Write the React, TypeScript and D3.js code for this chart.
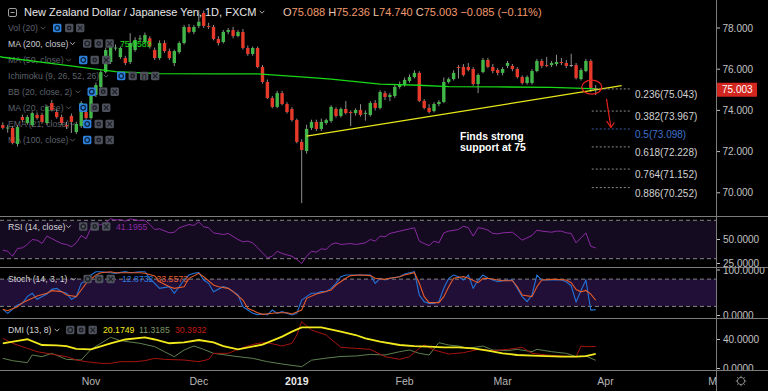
import React from 'react';
import * as d3 from 'd3';

// ---------- DATA ----------
const FIRST_BAR = -61; // bar index of the first candle (0 = 3 Jan 2019)
const opens = [
  73.29, 73.15, 73.15, 72.37, 73.68, 73.39, 73.29, 73.78, 73.78, 73.39,
  74.36, 73.92, 73.68, 73.29, 73.73, 72.95, 73.24, 73.92, 73.63, 74.75,
  75.14, 75.86, 76.35, 77.03, 76.59, 76.54, 76.35, 76.93, 77.47, 77.32,
  77.5, 76.93, 76.54, 77.27, 76.88, 76.3, 76.83, 77.27, 78.05, 77.81,
  78.1, 78.73, 78.1, 78.05, 77.47, 77.32, 77.81, 77.9, 77.61, 77.81,
  77.03, 76.74, 77.03, 76.11, 75.38, 74.6, 74.17, 74.84, 74.31, 74.07,
  73.53, 72.47, 72.03, 73.15, 73.44, 73.1, 73.39, 73.49, 74.07, 73.73,
  74.07, 73.92, 73.87, 74.02, 73.87, 73.78, 74.36, 74.12, 74.84, 74.65,
  74.7, 75.14, 75.23, 75.43, 75.62, 75.82, 74.46, 74.12, 73.97, 74.31,
  74.41, 75.38, 75.52, 76.11, 76.11, 76.11, 76.01, 75.28, 75.86, 76.45,
  76.11, 75.96, 75.82, 76.16, 76.16, 76.01, 75.62, 75.33, 75.33, 75.91,
  76.4, 76.2, 76.2, 76.25, 76.35, 76.3, 76.2, 76.2, 75.52, 75.91,
  76.4, 75.088,
];
const highs = [
  73.42, 73.3, 73.25, 73.28, 73.8, 73.78, 73.95, 73.9, 73.88, 74.25,
  74.5, 74.05, 73.8, 73.45, 73.85, 73.45, 74.45, 74.05, 74.85, 75.35,
  75.95, 77.05, 77.2, 77.2, 77.1, 76.65, 77.75, 77.55, 77.65, 77.78,
  77.6, 77.05, 77.4, 77.4, 77.0, 76.95, 77.35, 78.15, 78.2, 78.15,
  78.87, 78.85, 78.25, 78.15, 77.6, 77.9, 78.0, 78.05, 77.9, 77.95,
  77.15, 77.1, 77.1, 76.2, 75.5, 74.7, 74.95, 74.95, 74.4, 74.15,
  73.6, 72.6, 73.3, 73.55, 73.55, 73.6, 73.6, 74.25, 74.15, 74.15,
  74.46, 74.0, 74.1, 74.3, 74.0, 74.45, 74.5, 74.98, 74.95, 74.85,
  75.25, 75.4, 75.6, 75.75, 75.95, 75.9, 74.55, 74.3, 74.4, 74.5,
  75.6, 75.6, 75.95, 76.2, 76.25, 76.3, 76.1, 75.8, 76.55, 76.55,
  76.25, 76.05, 76.1, 76.4, 76.25, 76.1, 75.7, 75.7, 76.0, 76.5,
  76.5, 76.6, 76.4, 76.7, 76.55, 76.45, 76.75, 76.3, 76.05, 76.5,
  76.48, 75.236,
];
const lows = [
  73.08, 72.92, 72.35, 72.25, 73.42, 73.3, 73.22, 73.55, 73.35, 73.3,
  73.95, 73.6, 73.3, 73.1, 72.9, 72.85, 73.15, 73.55, 73.55, 74.65,
  75.05, 75.8, 76.25, 76.9, 76.5, 76.2, 76.25, 76.85, 77.3, 77.25,
  77.0, 76.45, 76.45, 76.8, 76.45, 76.15, 76.75, 77.2, 77.75, 77.7,
  78.0, 78.0, 77.95, 77.4, 77.15, 77.25, 77.7, 77.5, 77.55, 76.95,
  76.65, 76.65, 76.05, 75.3, 74.55, 74.1, 74.1, 74.25, 73.85, 73.45,
  72.4, 69.5, 71.9, 73.05, 73.0, 73.0, 73.3, 73.4, 73.65, 73.65,
  73.8, 73.24, 73.75, 73.7, 73.5, 73.7, 74.0, 74.05, 74.5, 74.45,
  74.6, 75.05, 75.15, 75.35, 75.55, 74.4, 74.05, 73.85, 73.9, 74.2,
  74.35, 75.3, 75.45, 75.55, 75.65, 75.9, 75.2, 74.84, 75.8, 76.05,
  75.8, 75.7, 75.7, 76.05, 75.9, 75.55, 75.25, 75.25, 75.25, 75.85,
  76.05, 76.1, 76.1, 76.15, 76.2, 76.05, 76.1, 75.5, 75.45, 75.85,
  74.9, 74.74,
];
const closes = [
  73.15, 73.17, 72.42, 73.19, 73.53, 73.68, 73.87, 73.63, 73.44, 74.17,
  74.02, 73.68, 73.39, 73.22, 73.44, 73.34, 74.36, 73.63, 74.75, 75.23,
  75.86, 76.93, 77.08, 77.05, 77.03, 76.3, 77.27, 77.42, 77.5, 77.66,
  77.1, 76.54, 77.27, 76.88, 76.54, 76.88, 77.27, 78.05, 77.81, 78.05,
  78.3, 78.1, 78.05, 77.47, 77.27, 77.81, 77.9, 77.61, 77.81, 77.03,
  76.74, 77.03, 76.11, 75.38, 74.6, 74.17, 74.84, 74.31, 73.92, 73.53,
  72.47, 72.08, 73.1, 73.44, 73.1, 73.44, 73.53, 74.17, 73.73, 74.07,
  73.87, 73.87, 74.02, 73.78, 73.88, 74.36, 74.12, 74.89, 74.65, 74.75,
  75.14, 75.28, 75.48, 75.62, 75.82, 74.46, 74.12, 73.92, 74.31, 74.41,
  75.38, 75.52, 75.82, 76.06, 75.72, 75.96, 75.28, 75.72, 76.45, 76.11,
  75.91, 75.82, 76.01, 76.3, 76.01, 75.62, 75.33, 75.62, 75.91, 76.4,
  76.16, 76.16, 76.3, 76.35, 76.3, 76.16, 76.2, 75.57, 75.96, 76.4,
  75.09, 75.003,
];

// [bar index, value]
const ma200: [number, number][] = [
  [-62, 76.63], [-61, 76.58], [-50, 76.25], [-38, 75.88], [-29, 75.79], [-17, 75.77], [-9, 75.77],
  [2, 75.59], [6, 75.52], [16, 75.28], [24, 75.22], [30, 75.15], [40, 75.14], [51, 75.12], [59, 75.06], [60, 75.059],
];
const trendLine: [number, number][] = [[1, 72.75], [65.3, 75.2]];

const fibRatios = ['0.236', '0.382', '0.5', '0.618', '0.764', '0.886'];
const fibPrices = [75.043, 73.967, 73.098, 72.228, 71.152, 70.252];

const rsi: [number, number][] = [
  [-61, 38.9], [-60, 37.8], [-59, 32.6], [-58, 40.6], [-57, 41.3], [-56, 44.8], [-55, 50], [-54, 49.3], [-53, 45.8],
  [-52, 53.5], [-51, 51], [-50, 48.3], [-49, 45.8], [-48, 44.8], [-47, 42.4], [-46, 46.5], [-45, 54.2], [-44, 50.7],
  [-43, 62.2], [-42, 63.9], [-41, 65.6], [-40, 67.4], [-39, 71.5], [-38, 70.2], [-37, 70.8], [-36, 69.1], [-35, 71.5],
  [-33, 69.8], [-32, 70.1], [-31, 65.6], [-30, 60.4], [-29, 61.1], [-27, 56.9], [-26, 57.6], [-25, 62.2], [-23, 65.6],
  [-22, 64.6], [-21, 68.4], [-20, 63.2], [-19, 62.2], [-18, 56.9], [-16, 55.2], [-15, 56.3], [-13, 50], [-12, 47.6],
  [-11, 48.3], [-10, 46.5], [-9, 41.3], [-8, 36.1], [-7, 30.9], [-6, 32.6], [-5, 37.8], [-4, 35.4], [-2, 32.6],
  [-1, 29.2], [0, 25], [1, 32.6], [2, 37.8], [3, 36.8], [4, 40.3], [5, 39.6], [6, 44.8], [7, 46.5], [8, 44.8],
  [10, 45.8], [11, 44.8], [13, 46.5], [14, 50], [15, 48.3], [16, 53.5], [17, 52.8], [18, 56.3], [20, 58.7],
  [22, 61.1], [23, 62.2], [24, 48.3], [25, 45.8], [26, 43.7], [27, 48.3], [28, 46.5], [29, 56.9], [30, 58.7],
  [32, 60.4], [33, 63.9], [34, 62.2], [35, 53.5], [36, 62.2], [37, 61.5], [38, 59.7], [39, 56.3], [40, 55.9],
  [41, 56.9], [43, 57.6], [44, 53.5], [45, 49.3], [47, 54.2], [48, 59.7], [49, 58.7], [51, 57.6], [52, 58.7],
  [53, 58.7], [54, 56.9], [55, 56.3], [56, 46.5], [57, 51.7], [58, 56.9], [59, 43], [60, 41.1955],
];

const stochK: [number, number][] = [
  [-61, 13.6], [-60, 4.8], [-58, 23.1], [-57, 26.7], [-56, 41.4], [-55, 48.8], [-54, 35.5], [-52, 47.3], [-51, 57.5],
  [-50, 59.7], [-49, 52.4], [-48, 48.8], [-47, 35.5], [-46, 41.4], [-45, 70.7], [-44, 76.5], [-43, 89], [-42, 96.3],
  [-41, 96.3], [-39, 94.1], [-38, 92.7], [-36, 96.3], [-35, 94.1], [-33, 96.3], [-32, 96.3], [-31, 81.7], [-30, 70.7],
  [-29, 59.7], [-27, 63.3], [-26, 48.8], [-24, 78], [-23, 89], [-22, 92.7], [-21, 94.1], [-20, 78], [-19, 70.7],
  [-18, 52.4], [-16, 63.3], [-15, 59.7], [-13, 45.1], [-12, 19.4], [-11, 12.1], [-10, 4.8], [-9, 2], [-8, 3.3],
  [-7, 1.1], [-6, 12.1], [-5, 4.8], [-4, 8.4], [-2, 1.1], [-1, 4.8], [0, 34.1], [1, 41.4], [2, 48.8], [3, 48.8],
  [4, 52.4], [5, 52.4], [6, 59.7], [7, 70.7], [8, 85.3], [9, 89], [11, 89], [12, 89], [14, 89], [15, 70.7],
  [16, 81.7], [17, 78], [18, 81.7], [20, 85.3], [21, 91.2], [23, 96.3], [24, 45.1], [25, 30.4], [26, 26.7],
  [27, 26.7], [28, 30.4], [29, 59.7], [30, 81.7], [31, 89], [32, 85.3], [33, 78], [34, 89], [35, 59.7], [36, 78],
  [37, 89], [38, 81.7], [39, 78], [40, 74.3], [41, 76.5], [43, 78], [44, 59.7], [45, 41.4], [46, 30.4], [47, 45.1],
  [48, 89], [49, 78], [51, 78], [52, 78], [53, 78], [54, 74], [55, 65], [56, 30], [57, 55], [58, 78], [59, 12],
  [60, 12.8732],
];
const stochD: [number, number][] = [
  [-61, 13.6], [-60, 10.6], [-58, 19.4], [-57, 28.2], [-55, 37.7], [-54, 42.9], [-52, 48.8], [-51, 54.6], [-49, 52.4],
  [-48, 45.1], [-46, 41.4], [-45, 56], [-44, 70.7], [-42, 89], [-41, 94.1], [-39, 96.3], [-38, 94.1], [-36, 94.1],
  [-35, 94.1], [-33, 94.1], [-32, 92.7], [-30, 86.8], [-29, 74.3], [-27, 63.3], [-26, 59.7], [-24, 63.3], [-23, 81.7],
  [-21, 92.7], [-20, 85.3], [-18, 67], [-17, 63.3], [-15, 59.7], [-14, 52.4], [-12, 34.1], [-11, 15.8], [-9, 6.2],
  [-8, 2.6], [-6, 4.8], [-5, 6.2], [-3, 6.2], [-2, 3.3], [0, 12.1], [1, 37.7], [3, 47.3], [4, 50.1], [6, 56],
  [7, 67], [9, 81.7], [10, 87.6], [12, 89], [14, 87.6], [15, 81.7], [17, 79.5], [18, 81.7], [20, 85.3], [21, 89],
  [23, 94.1], [24, 70.7], [25, 41.4], [26, 28.2], [28, 28.2], [29, 41.4], [30, 63.3], [31, 81.7], [33, 85.3],
  [34, 81.7], [36, 72.1], [37, 81.7], [38, 81.7], [40, 78], [41, 76.5], [43, 76.5], [44, 63.3], [45, 45.1],
  [47, 41.4], [48, 63.3], [49, 78], [51, 79.5], [52, 79.5], [54, 78], [55, 72], [56, 57], [57, 52], [58, 55],
  [59, 47], [60, 33.5573],
];

const adx: [number, number][] = [
  [-61, 34.8], [-58, 38], [-56, 40.3], [-53, 32.4], [-50, 32], [-48, 31], [-46, 27], [-43, 26.5], [-39, 34.8],
  [-36, 40], [-32, 43], [-30, 40], [-27, 34.8], [-24, 36], [-21, 39.3], [-18, 36], [-16, 31], [-13, 26.5],
  [-8, 33], [-4, 44], [-2, 50.8], [0, 56.8], [4, 56.8], [8, 50.8], [11, 46.2], [13, 41.7], [16, 37], [20, 32.4],
  [23, 31], [26, 30.1], [29, 29.2], [32, 29.2], [35, 27.8], [38, 24.6], [41, 20.9], [44, 18.6], [47, 17.7],
  [50, 17.2], [53, 16.3], [56, 16.3], [58, 17.2], [60, 20.1749],
];
const plusDI: [number, number][] = [
  [-61, 14], [-59, 10.8], [-56, 8], [-55, 18.6], [-53, 16.3], [-51, 20.9], [-48, 12.6], [-45, 11.7], [-43, 26.4],
  [-41, 34.7], [-39, 43], [-37, 38.4], [-33, 34.7], [-30, 30.1], [-28, 23.2], [-26, 16.3], [-24, 25.5], [-22, 31],
  [-20, 26.4], [-18, 20.9], [-14, 17.2], [-10, 14], [-7, 9.4], [-4, 6.2], [0, 2.5], [2, 11.5], [5, 14.3], [8, 16.6],
  [11, 17.2], [14, 19.5], [17, 18.6], [20, 23.2], [22, 25.5], [24, 20.9], [26, 18.6], [28, 35.6], [30, 32.4],
  [32, 31], [34, 27.8], [37, 31], [39, 25.5], [42, 24.6], [44, 26.4], [47, 23.2], [48, 26.4], [51, 23.2],
  [54, 20.9], [56, 16.3], [58, 17.2], [60, 11.3185],
];
const minusDI: [number, number][] = [
  [-61, 41.6], [-59, 34.7], [-56, 27.8], [-54, 23.2], [-52, 20.9], [-50, 18.6], [-48, 16.3], [-46, 11.7], [-44, 9.4],
  [-41, 7.1], [-39, 7.1], [-37, 9.4], [-34, 9.4], [-32, 10.8], [-30, 14], [-28, 12.6], [-24, 11.7], [-21, 9.4],
  [-19, 12.6], [-18, 20.9], [-15, 20.9], [-13, 26.4], [-11, 31], [-9, 34.7], [-7, 35.6], [-4, 31], [-2, 34.7],
  [-1, 46.2], [0, 64.6], [2, 53.1], [5, 46.2], [8, 29.2], [11, 27.8], [14, 26.4], [17, 16.3], [20, 12.6],
  [22, 16.3], [24, 27.8], [25, 32.4], [27, 25.5], [30, 20], [33, 21.8], [36, 26.4], [39, 24.6], [42, 26.4],
  [45, 29.2], [47, 20.9], [50, 18.6], [53, 17.2], [56, 16.3], [57, 31], [58, 30.1], [60, 30.3932],
];

const monthLabels = ['Nov', 'Dec', '2019', 'Feb', 'Mar', 'Apr', 'May'];
const monthBars = [-43, -21, -1, 21, 41, 62, 85];

const priceTicks = [70, 72, 74, 76, 78];
const rsiTicks = [25, 50];
const stochTicks = [0, 100];
const dmiTicks = [0, 40];

const lastClose = 75.003;

// ---------- LAYOUT ----------
const W = 768;
const H = 391;
const PR = 716;
const FONT = "'Liberation Sans', Arial, Helvetica, sans-serif";

const x = d3.scaleLinear().domain([0, 60]).range([301.7, 301.7 + 60 * 4.9]);
const yP = d3.scaleLinear().domain([70, 78]).range([192.8, 28]);
const yR = d3.scaleLinear().domain([30, 70]).range([258.7, 220.3]);
const yS = d3.scaleLinear().domain([0, 100]).range([315.5, 270]);
const yD = d3.scaleLinear().domain([0, 40]).range([368.5, 339.5]);

const GREEN = '#43b649';
const RED = '#e5392a';

function Chev({ cx, cy, color }: { cx: number; cy: number; color: string }) {
  return <path d={`M${cx - 2.3},${cy - 1.2} L${cx},${cy + 1.2} L${cx + 2.3},${cy - 1.2}`} fill="none" stroke={color} strokeWidth={0.9} />;
}

function Icon({ x0, cy, kind, blue }: { x0: number; cy: number; kind: string; blue?: boolean }) {
  const s = 8.4;
  const ink = blue ? '#0d2440' : '#1d1f25';
  const c = s / 2;
  return (
    <g transform={`translate(${x0},${cy - s / 2})`}>
      <rect width={s} height={s} rx={1.4} fill={blue ? '#2d83dc' : '#4d515b'} />
      {kind === 'eye' && <circle cx={c} cy={c} r={2.3} fill="none" stroke={ink} strokeWidth={1.3} />}
      {kind === 'gear' && (
        <g>
          <circle cx={c} cy={c} r={2.4} fill={ink} />
          <circle cx={c} cy={c} r={1} fill={blue ? '#2d83dc' : '#4d515b'} />
        </g>
      )}
      {kind === 'x' && (
        <path d={`M${c - 2.3},${c - 2.3} L${c + 2.3},${c + 2.3} M${c + 2.3},${c - 2.3} L${c - 2.3},${c + 2.3}`} stroke={ink} strokeWidth={1.2} />
      )}
      {kind === 'br' && (
        <text x={c} y={c + 2.6} fontSize={7} textAnchor="middle" fill={ink} fontWeight="bold">{'{}'}</text>
      )}
    </g>
  );
}

type Row = { label: string; y: number; chev: number; icons: number[]; first: string; bright?: boolean; extra?: boolean };
const legendRows: Row[] = [
  { label: 'Vol (20)', y: 28, chev: 43, icons: [53, 65, 76], first: 'blue' },
  { label: 'MA (200, close)', y: 43.5, chev: 72.5, icons: [83, 94.5, 105.5], first: 'gray', bright: true },
  { label: 'MA (50, close)', y: 60, chev: 68.5, icons: [79, 90.5, 102], first: 'blue' },
  { label: 'Ichimoku (9, 26, 52, 26)', y: 76, chev: 106, icons: [117, 128.5, 140, 151], first: 'blue', extra: true },
  { label: 'BB (20, close, 2)', y: 91.7, chev: 78, icons: [87.5, 99, 110.5], first: 'blue' },
  { label: 'MA (20, close)', y: 107.7, chev: 68.5, icons: [79, 90.5, 102], first: 'blue' },
  { label: 'EMA (21, close)', y: 124, chev: 72.5, icons: [83, 94.5, 105.5], first: 'blue' },
  { label: 'MA (100, close)', y: 140, chev: 72.5, icons: [83, 94.5, 105.5], first: 'blue' },
];

export default function App() {
  React.useEffect(() => {
    document.body.style.margin = '0';
    document.body.style.background = '#000';
  }, []);

  const lineGen = (ys: d3.ScaleLinear<number, number>) =>
    d3.line<[number, number]>().x((d) => x(d[0])).y((d) => ys(d[1]));

  const candles = opens.map((o, k) => {
    const i = FIRST_BAR + k;
    const c = closes[k];
    const hi = highs[k];
    const lo = lows[k];
    const col = Math.abs(c - o) < 0.005 ? '#9e9e9e' : c > o ? GREEN : RED;
    const top = yP(Math.max(o, c));
    const bot = yP(Math.min(o, c));
    return (
      <g key={k}>
        <line x1={x(i)} x2={x(i)} y1={yP(hi)} y2={yP(lo)} stroke="#8d8d8d" strokeWidth={1} />
        <rect x={x(i) - 1.7} y={top} width={3.4} height={Math.max(1, bot - top)} fill={col} />
      </g>
    );
  });

  const sep = '#7c7c7c';
  const axisText = '#c2c2c2';

  const mainRows = legendRows.map((r, k) => {
    const col = r.bright ? '#c9cbd1' : '#5d616b';
    return (
      <g key={k}>
        <text x={8} y={r.y + 3.1} fontSize={8.7} fill={col}>{r.label}</text>
        <Chev cx={r.chev} cy={r.y} color={col} />
      </g>
    );
  });
  const mainIcons = legendRows.map((r, k) => (
    <g key={k}>
      <Icon x0={r.icons[0]} cy={r.y} kind="eye" blue={r.first === 'blue'} />
      <Icon x0={r.icons[1]} cy={r.y} kind="gear" />
      {r.extra ? <Icon x0={r.icons[2]} cy={r.y} kind="br" /> : null}
      <Icon x0={r.icons[r.icons.length - 1]} cy={r.y} kind="x" />
    </g>
  ));

  const fibX0 = x(59.2);
  const fibX1 = x(67);

  const arrowTip = [x(63.1), yP(73.17)];

  return (
    <svg width={W} height={H} style={{ position: 'absolute', left: 0, top: 0, display: 'block', background: '#000' }} fontFamily={FONT}>
      <defs>
        <clipPath id="cMain"><rect x={0} y={0} width={PR} height={216} /></clipPath>
        <clipPath id="cRsi"><rect x={0} y={216.5} width={PR} height={50} /></clipPath>
        <clipPath id="cSto"><rect x={0} y={267.5} width={PR} height={50} /></clipPath>
        <clipPath id="cDmi"><rect x={0} y={318.5} width={PR} height={51} /></clipPath>
        <clipPath id="aRsi"><rect x={PR} y={216.5} width={52} height={50.5} /></clipPath>
        <clipPath id="aSto"><rect x={PR} y={267.5} width={52} height={50.5} /></clipPath>
        <clipPath id="aDmi"><rect x={PR} y={318.5} width={52} height={51.5} /></clipPath>
        <clipPath id="cX"><rect x={0} y={370} width={PR} height={21} /></clipPath>
      </defs>
      <rect x={0} y={0} width={W} height={H} fill="#000" />

      {/* ---------- MAIN PANEL ---------- */}
      <g clipPath="url(#cMain)">
        {mainRows}
        {candles}
        <path d={lineGen(yP)(ma200) || ''} fill="none" stroke="#18d818" strokeWidth={1.3} />
        <path d={lineGen(yP)(trendLine) || ''} fill="none" stroke="#e8e81a" strokeWidth={1.3} />
        {fibPrices.map((p, k) => (
          <g key={k}>
            <line x1={fibX0} x2={fibX1} y1={yP(p)} y2={yP(p)} stroke={fibRatios[k] === '0.5' ? '#3a5b9c' : '#8a8a8a'} strokeWidth={1} strokeDasharray="2 2" />
            <text x={635} y={yP(p) + 9} fontSize={10} fill={fibRatios[k] === '0.5' ? '#3f72cc' : '#d2d2d2'}>
              {`${fibRatios[k]}(${p.toFixed(3)})`}
            </text>
          </g>
        ))}
        <ellipse cx={x(59.2)} cy={yP(75.13)} rx={10} ry={7} fill="none" stroke="#e3231d" strokeWidth={1.3} />
        <line x1={x(62.2)} y1={yP(74.56)} x2={arrowTip[0]} y2={arrowTip[1]} stroke="#e3231d" strokeWidth={1.2} />
        <path d={`M${arrowTip[0] - 4.3},${arrowTip[1] - 6.5} L${arrowTip[0]},${arrowTip[1]} L${arrowTip[0] + 3.4},${arrowTip[1] - 5}`} fill="none" stroke="#e3231d" strokeWidth={1.2} />
        <text x={460} y={140} fontSize={10.5} fontWeight="bold" fill="#ffffff">Finds strong</text>
        <text x={460} y={151} fontSize={10.5} fontWeight="bold" fill="#ffffff">support at 75</text>
        {mainIcons}
        <text x={120} y={46.5} fontSize={8.7} fill="#1ee01e">75.0589</text>
      </g>
      {/* title */}
      <rect x={8.5} y={8.5} width={8} height={8} rx={1.5} fill="none" stroke="#a0a0a0" strokeWidth={1} />
      <line x1={10.5} x2={14.5} y1={12.5} y2={12.5} stroke="#a0a0a0" strokeWidth={1} />
      <text x={24} y={16} fontSize={11} fill="#e6e6e6">New Zealand Dollar / Japanese Yen, 1D, FXCM</text>
      <Chev cx={262} cy={12} color="#c0c0c0" />
      <text x={283} y={16} fontSize={11} fill="#f29a6c">
        <tspan fill="#efc4a8">O</tspan>75.088 <tspan fill="#efc4a8">H</tspan>75.236 <tspan fill="#efc4a8">L</tspan>74.740{' '}
        <tspan fill="#efc4a8">C</tspan>75.003 −0.085 (−0.11%)
      </text>

      {/* ---------- RSI ---------- */}
      <rect x={0} y={yR(70)} width={PR} height={yR(30) - yR(70)} fill="#150b21" />
      <g clipPath="url(#cRsi)">
        <line x1={0} x2={PR} y1={yR(70)} y2={yR(70)} stroke="#858585" strokeDasharray="4 3" />
        <line x1={0} x2={PR} y1={yR(30)} y2={yR(30)} stroke="#858585" strokeDasharray="4 3" />
        <path d={lineGen(yR)(rsi) || ''} fill="none" stroke="#8b2aa3" strokeWidth={1} />
        <text x={8} y={229.5} fontSize={8.7} fill="#d4d4d4">RSI (14, close)</text>
        <Chev cx={68.5} cy={226.5} color="#bcbcbc" />
        <Icon x0={79} cy={226.5} kind="eye" />
        <Icon x0={90.5} cy={226.5} kind="gear" />
        <Icon x0={102} cy={226.5} kind="x" />
        <text x={116} y={229.5} fontSize={8.7} fill="#8b2aa3">41.1955</text>
      </g>

      {/* ---------- STOCH ---------- */}
      <rect x={0} y={yS(80)} width={PR} height={yS(20) - yS(80)} fill="#220f38" />
      <g clipPath="url(#cSto)">
        <line x1={0} x2={PR} y1={yS(80)} y2={yS(80)} stroke="#858585" strokeDasharray="4 3" />
        <line x1={0} x2={PR} y1={yS(20)} y2={yS(20)} stroke="#858585" strokeDasharray="4 3" />
        <path d={lineGen(yS)(stochK) || ''} fill="none" stroke="#2374d8" strokeWidth={1.1} />
        <path d={lineGen(yS)(stochD) || ''} fill="none" stroke="#e45b2a" strokeWidth={1.1} />
        <text x={8} y={282} fontSize={8.7} fill="#d4d4d4">Stoch (14, 3, 1)</text>
        <Chev cx={73.5} cy={279} color="#bcbcbc" />
        <Icon x0={83.5} cy={279} kind="eye" />
        <Icon x0={95} cy={279} kind="gear" />
        <Icon x0={106.5} cy={279} kind="x" />
        <text x={122} y={282} fontSize={8.7} fill="#2d7be0">12.8732</text>
        <text x={156.5} y={282} fontSize={8.7} fill="#e45b2a">33.5573</text>
      </g>

      {/* ---------- DMI ---------- */}
      <g clipPath="url(#cDmi)">
        <path d={lineGen(yD)(plusDI) || ''} fill="none" stroke="#5e7f4f" strokeWidth={1} />
        <path d={lineGen(yD)(minusDI) || ''} fill="none" stroke="#a3150f" strokeWidth={1} />
        <path d={lineGen(yD)(adx) || ''} fill="none" stroke="#f2ea1c" strokeWidth={1.8} />
        <text x={8} y={333} fontSize={8.7} fill="#d4d4d4">DMI (13, 8)</text>
        <Chev cx={57} cy={330} color="#bcbcbc" />
        <Icon x0={66} cy={330} kind="eye" />
        <Icon x0={77} cy={330} kind="gear" />
        <Icon x0={88.5} cy={330} kind="x" />
        <text x={103} y={333} fontSize={8.7} fill="#f2ea1c">20.1749</text>
        <text x={139} y={333} fontSize={8.7} fill="#7d9a6a">11.3185</text>
        <text x={175} y={333} fontSize={8.7} fill="#c11b14">30.3932</text>
      </g>

      {/* ---------- SEPARATORS ---------- */}
      {[216, 267, 318, 370].map((yy) => (
        <line key={yy} x1={0} x2={W} y1={yy + 0.5} y2={yy + 0.5} stroke={sep} strokeWidth={1} />
      ))}
      <line x1={PR + 0.5} x2={PR + 0.5} y1={0} y2={H} stroke={sep} strokeWidth={1} />

      {/* ---------- RIGHT AXES ---------- */}
      {priceTicks.map((t) => (
        <g key={t}>
          <line x1={PR + 1} x2={PR + 4} y1={yP(t)} y2={yP(t)} stroke={axisText} />
          <text x={722.5} y={yP(t) + 3.6} fontSize={10} fill={axisText}>{t.toFixed(3)}</text>
        </g>
      ))}
      <rect x={PR + 1} y={yP(lastClose) - 7} width={40} height={14} fill="#d2261f" />
      <text x={722} y={yP(lastClose) + 3.6} fontSize={10} fill="#ffffff">{lastClose.toFixed(3)}</text>

      <g clipPath="url(#aRsi)">
        {rsiTicks.map((t) => (
          <g key={t}>
            <line x1={PR + 1} x2={PR + 4} y1={yR(t)} y2={yR(t)} stroke={axisText} />
            <text x={723} y={yR(t) + 3.6} fontSize={10} fill={axisText}>{t.toFixed(4)}</text>
          </g>
        ))}
      </g>
      <g clipPath="url(#aSto)">
        {stochTicks.map((t) => (
          <g key={t}>
            <line x1={PR + 1} x2={PR + 4} y1={yS(t)} y2={yS(t)} stroke={axisText} />
            <text x={723} y={yS(t) + 3.6} fontSize={10} fill={axisText}>{t.toFixed(4)}</text>
          </g>
        ))}
      </g>
      <g clipPath="url(#aDmi)">
        {dmiTicks.map((t) => (
          <g key={t}>
            <line x1={PR + 1} x2={PR + 4} y1={yD(t)} y2={yD(t)} stroke={axisText} />
            <text x={723} y={yD(t) + 3.6} fontSize={10} fill={axisText}>{t.toFixed(4)}</text>
          </g>
        ))}
      </g>

      {/* ---------- X AXIS ---------- */}
      <g clipPath="url(#cX)">
        {monthLabels.map((m, k) => (
          <text key={m} x={x(monthBars[k])} y={384.5} fontSize={10.5} textAnchor="middle"
            fill={m === '2019' ? '#e8e8e8' : '#b6b6b6'} fontWeight={m === '2019' ? 'bold' : 'normal'}>
            {m}
          </text>
        ))}
      </g>
      {/* gear */}
      <g transform="translate(741,381)" stroke="#8a8a8a" fill="none" strokeWidth={1}>
        <circle r={3.6} />
        {d3.range(8).map((k) => {
          const a = (k * Math.PI) / 4;
          return <line key={k} x1={Math.cos(a) * 3.6} y1={Math.sin(a) * 3.6} x2={Math.cos(a) * 5.2} y2={Math.sin(a) * 5.2} />;
        })}
      </g>
    </svg>
  );
}
